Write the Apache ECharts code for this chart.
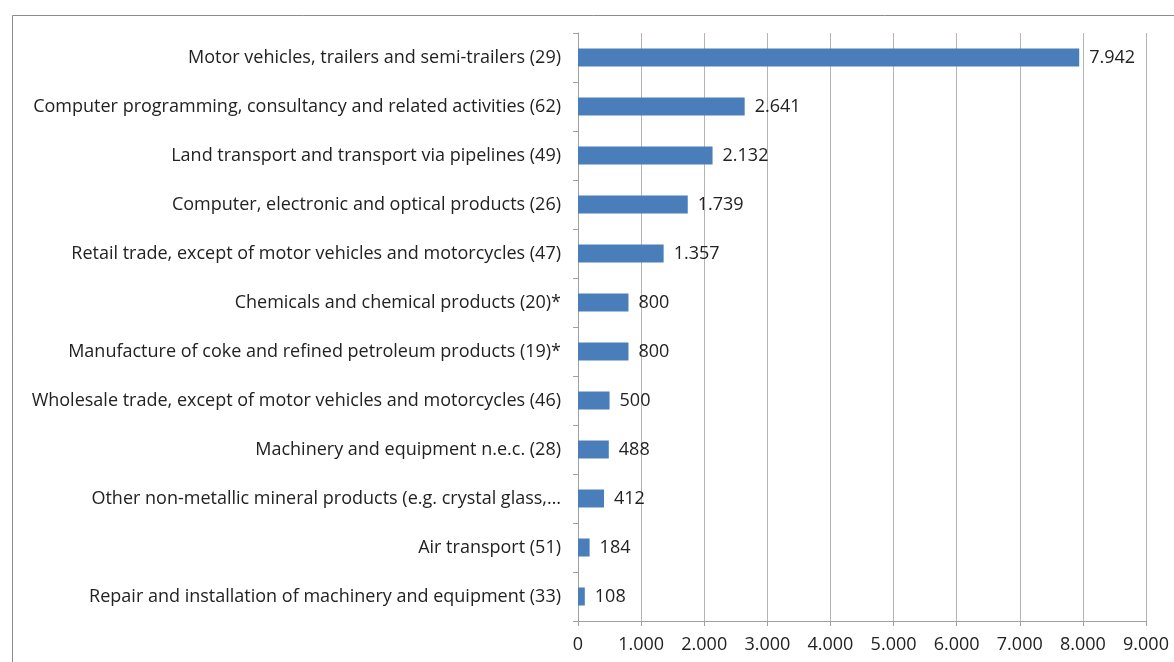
<!DOCTYPE html>
<html><head><meta charset="utf-8">
<script src="https://cdn.jsdelivr.net/npm/echarts@6/dist/echarts.min.js"></script>
<style>html,body{margin:0;padding:0;background:#fff}#c{width:1174px;height:662px}</style>
</head><body><div id="c"></div>
<script>
const categories = [
  "Motor vehicles, trailers and semi-trailers (29)",
  "Computer programming, consultancy and related activities (62)",
  "Land transport and transport via pipelines (49)",
  "Computer, electronic and optical products (26)",
  "Retail trade, except of motor vehicles and motorcycles (47)",
  "Chemicals and chemical products (20)*",
  "Manufacture of coke and refined petroleum products (19)*",
  "Wholesale trade, except of motor vehicles and motorcycles (46)",
  "Machinery and equipment n.e.c. (28)",
  "Other non-metallic mineral products (e.g. crystal glass,…",
  "Air transport (51)",
  "Repair and installation of machinery and equipment (33)"
];
const values = [7942, 2641, 2132, 1739, 1357, 800, 800, 500, 488, 412, 184, 108];
const fmt = v => String(v).replace(/\B(?=(\d{3})+(?!\d))/g, '.');
const font = 'Open Sans';
const chart = echarts.init(document.getElementById('c'));
chart.setOption({
  animation: false,
  graphic: [{type:'rect', left:10, top:13, shape:{width:1200, height:700}, style:{fill:'none', stroke:'#8c8c8c', lineWidth:1}, z:-1}],
  grid: {left:578, right:28, top:33, bottom:41, containLabel:false},
  xAxis: {
    type:'value', min:0, max:9000, interval:1000,
    axisLine:{show:true, lineStyle:{color:'#a0a0a0'}},
    axisTick:{show:true, length:5, lineStyle:{color:'#a0a0a0'}},
    splitLine:{show:true, lineStyle:{color:'#b4b4b4'}},
    axisLabel:{formatter: fmt, color:'#222', fontFamily:font, fontSize:18, margin:15}
  },
  yAxis: {
    type:'category', data:categories, inverse:true,
    axisLine:{show:true, lineStyle:{color:'#a0a0a0'}},
    axisTick:{show:true, length:5, lineStyle:{color:'#a0a0a0'}},
    axisLabel:{color:'#222', fontFamily:font, fontSize:18, margin:17, padding:[3,0,0,0]}
  },
  series: [{
    type:'bar', data:values, barWidth:18,
    itemStyle:{color:'#4a7ebb'},
    label:{show:true, position:'right', distance:10, padding:[3,0,0,0], formatter: p => fmt(p.value), color:'#222', fontFamily:font, fontSize:18}
  }]
});
</script></body></html>
